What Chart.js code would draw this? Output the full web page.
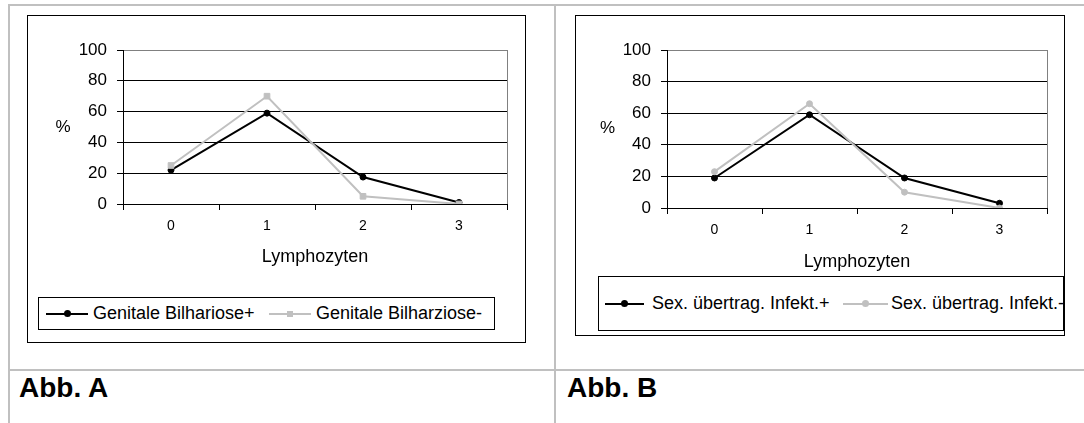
<!DOCTYPE html>
<html>
<head>
<meta charset="utf-8">
<script src="https://cdn.jsdelivr.net/npm/chart.js@4.4.1/dist/chart.umd.min.js"></script>
<style>
body { margin: 0; background: #fff; width: 1084px; height: 423px; overflow: hidden; position: relative; font-family: "Liberation Sans", Arial, sans-serif; color: #000; }
.rule { position: absolute; background: #c0c0c0; }
.box { position: absolute; border: 1px solid #000; box-sizing: border-box; background: #fff; }
.box canvas { position: absolute; left: 0; top: 0; }
.legend { position: absolute; border: 1px solid #000; box-sizing: border-box; overflow: hidden; white-space: nowrap; font-size: 18px; background: #fff; }
.legend span { position: absolute; }
.caption { position: absolute; font-weight: bold; font-size: 28px; line-height: 28px; }
</style>
</head>
<body>
<div class="rule" style="left:8px;top:4px;width:1076px;height:2px"></div>
<div class="rule" style="left:8px;top:4px;width:2px;height:419px"></div>
<div class="rule" style="left:554px;top:4px;width:2px;height:419px"></div>
<div class="rule" style="left:8px;top:369px;width:1076px;height:2px"></div>

<div class="box" style="left:27px;top:15px;width:499px;height:328px"><canvas id="chartA" width="497" height="326"></canvas></div>
<div class="box" style="left:575px;top:15px;width:490px;height:321px"><canvas id="chartB" width="488" height="319"></canvas></div>

<div class="legend" id="legendA" style="left:38px;top:297px;width:457px;height:33px"></div>
<div class="legend" id="legendB" style="left:598px;top:276px;width:466px;height:55px"></div>

<div class="caption" style="left:19px;top:374px">Abb. A</div>
<div class="caption" style="left:567px;top:374px">Abb. B</div>

<script>
// values
const categories = ['0', '1', '2', '3'];
const yTicks = [0, 20, 40, 60, 80, 100];
const namesA = ['Genitale Bilhariose+', 'Genitale Bilharziose-'];
const bilharPos = [22, 59, 17.5, 1];
const bilharNeg = [25, 70, 5, 0];
const namesB = ['Sex. übertrag. Infekt.+', 'Sex. übertrag. Infekt.-'];
const stiPos = [19, 59, 19, 3];
const stiNeg = [23, 66, 10, 0];

const FONT = '"Liberation Sans", Arial, sans-serif';
Chart.defaults.font.family = FONT;
Chart.defaults.color = '#000';

// gray right edge of the plot area (top edge is the 100 gridline)
const plotFrame = {
    id: 'plotFrame',
    beforeDatasetsDraw(chart) {
        const { ctx, chartArea: a } = chart;
        const x = Math.round(a.right) + 0.5;
        ctx.save();
        ctx.strokeStyle = '#808080';
        ctx.lineWidth = 1;
        ctx.beginPath();
        ctx.moveTo(x, a.top);
        ctx.lineTo(x, a.bottom);
        ctx.stroke();
        ctx.restore();
    }
};

// unrotated "%" beside the value axis
const sideLabel = {
    id: 'sideLabel',
    afterDraw(chart, args, opts) {
        const ctx = chart.ctx;
        ctx.save();
        ctx.font = '17px ' + FONT;
        ctx.fillStyle = '#000';
        ctx.textAlign = 'center';
        ctx.textBaseline = 'middle';
        ctx.fillText(opts.text, opts.x, opts.y);
        ctx.restore();
    }
};

function makeChart(id, names, pos, neg, lay) {
    return new Chart(document.getElementById(id), {
        type: 'line',
        data: {
            labels: categories,
            datasets: [{
                label: names[0],
                data: pos,
                order: 1,
                borderColor: '#000',
                backgroundColor: '#000',
                borderWidth: 2,
                pointStyle: 'circle',
                pointRadius: 3,
                pointBorderWidth: 1,
                tension: 0
            }, {
                label: names[1],
                data: neg,
                order: 0,   // second series sits on top, as in the original
                borderColor: '#c0c0c0',
                backgroundColor: '#c0c0c0',
                borderWidth: 2,
                pointStyle: lay.negMarker,
                pointRadius: lay.negRadius,
                pointBorderWidth: 1,
                tension: 0
            }]
        },
        options: {
            responsive: false,
            maintainAspectRatio: false,
            animation: false,
            events: [],
            layout: { padding: lay.padding },
            plugins: {
                legend: { display: false },
                tooltip: { enabled: false },
                sideLabel: { text: '%', x: lay.pct[0], y: lay.pct[1] }
            },
            scales: {
                x: {
                    offset: true,
                    grid: { offset: true, drawOnChartArea: false, drawTicks: true, tickLength: 6, color: '#000' },
                    border: { color: '#000' },
                    ticks: { font: { size: 14 }, padding: 8, maxRotation: 0 },
                    title: { display: true, text: 'Lymphozyten', font: { size: 18 }, padding: { top: 0, bottom: lay.titlePad } },
                    afterFit: s => { s.height = 80; }
                },
                y: {
                    min: yTicks[0],
                    max: yTicks[yTicks.length - 1],
                    ticks: { stepSize: yTicks[1] - yTicks[0], font: { size: 17 }, padding: 10 },
                    grid: {
                        color: c => (c.tick && c.tick.value === yTicks[yTicks.length - 1]) ? '#808080' : '#000',
                        tickColor: '#000',
                        tickLength: 6
                    },
                    border: { color: '#000' },
                    afterFit: s => { s.width = lay.yWidth; }
                }
            }
        },
        plugins: [plotFrame, sideLabel]
    });
}

function buildLegend(el, chart, items) {
    const h = el.clientHeight;
    chart.data.datasets.forEach((ds, i) => {
        const it = items[i];
        const line = document.createElement('span');
        line.style.cssText = `left:${it.line}px;top:${h / 2 - 1}px;width:${it.len}px;height:2px;background:${ds.borderColor}`;
        el.appendChild(line);
        const mk = document.createElement('span');
        const size = ds.pointStyle === 'rect' ? 6 : 7;
        mk.style.cssText = `left:${it.line + it.len / 2 - size / 2}px;top:${h / 2 - size / 2}px;width:${size}px;height:${size}px;background:${ds.backgroundColor};` +
            (ds.pointStyle === 'rect' ? '' : 'border-radius:50%');
        el.appendChild(mk);
        const tx = document.createElement('span');
        tx.textContent = ds.label;
        tx.style.cssText = `left:${it.text}px;top:0;line-height:${h}px`;
        el.appendChild(tx);
    });
}

const chartA = makeChart('chartA', namesA, bilharPos, bilharNeg, {
    padding: { left: 0, top: 34, right: 18, bottom: 58 },
    yWidth: 95, titlePad: 16, pct: [35, 111], negMarker: 'rect', negRadius: 4
});
const chartB = makeChart('chartB', namesB, stiPos, stiNeg, {
    padding: { left: 0, top: 34, right: 17, bottom: 47 },
    yWidth: 91, titlePad: 15, pct: [31.5, 112.5], negMarker: 'circle', negRadius: 3
});

buildLegend(document.getElementById('legendA'), chartA, [
    { line: 7, len: 42, text: 54 }, { line: 230, len: 42, text: 277 }
]);
buildLegend(document.getElementById('legendB'), chartB, [
    { line: 6, len: 39, text: 53 }, { line: 244, len: 45, text: 292 }
]);
</script>
</body>
</html>
